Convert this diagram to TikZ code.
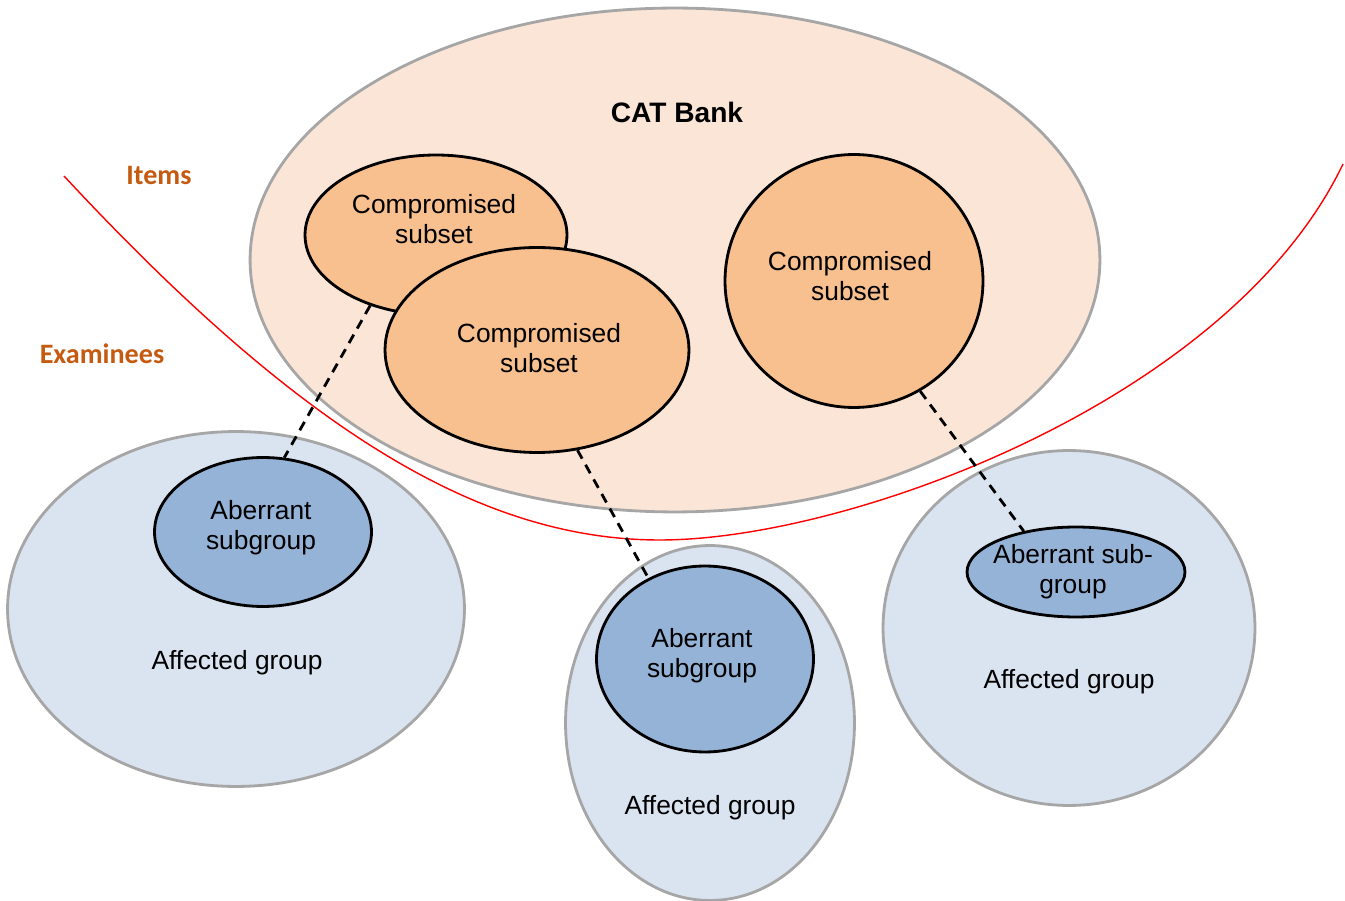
\documentclass[tikz,border=0pt]{standalone}
\usepackage{fontspec}
\setmainfont{Liberation Sans}
\newfontfamily\calibri{Carlito}
\usetikzlibrary{shapes.geometric}
\definecolor{bankfill}{HTML}{FBE5D6}
\definecolor{subsetfill}{HTML}{F8C08F}
\definecolor{groupfill}{HTML}{DAE3F0}
\definecolor{aberfill}{HTML}{95B3D7}
\definecolor{outline}{HTML}{A6A6A6}
\definecolor{sidelabel}{HTML}{C55A11}
\begin{document}
\begin{tikzpicture}[x=0.02cm, y=-0.02cm,
    pool/.style={ellipse, draw=outline, line width=1.6pt, inner sep=0pt},
    subset/.style={ellipse, draw=black, line width=1.6pt, fill=subsetfill, inner sep=0pt, align=center, font=\fontsize{15}{17}\selectfont},
    txt/.style={align=center, font=\fontsize{15}{17}\selectfont},
    side/.style={text=sidelabel, font=\calibri\fontsize{16}{18}\selectfont\bfseries},
    link/.style={draw, dashed, line width=1.6pt, dash pattern=on 5.5pt off 4pt}]
    \useasboundingbox (0,0) rectangle (1345,901);

    \node[pool, fill=bankfill, minimum width=17cm, minimum height=10.08cm] (bank) at (675,260) {};
    \node[txt, font=\fontsize{16}{18}\selectfont\bfseries] (banktxt) at (677,112) {CAT Bank};
    \node[subset, minimum width=5.24cm, minimum height=3.2cm] (compA) at (436,235) {};
    \node[txt] (compAtxt) at (434,219) {Compromised\\subset};
    \node[subset, minimum width=6.08cm, minimum height=4.1cm] (compB) at (537,350) {};
    \node[txt] (compBtxt) at (539,348) {Compromised\\subset};
    \node[subset, minimum width=5.16cm, minimum height=5.06cm] (compC) at (854,281) {};
    \node[txt] (compCtxt) at (850,276) {Compromised\\subset};

    \coordinate (split) at (660,540);
    \draw[red, line width=0.8pt] (64,176) .. controls (300,430) and (480,540) .. (split)
        .. controls (850,540) and (1230,400) .. (1343,164);

    \node[side] (items) at (159,175) {Items};
    \node[side] (exam) at (102,354) {Examinees};

    \node[pool, fill=groupfill, minimum width=9.14cm, minimum height=7.1cm] (grpA) at (236,609) {};
    \node[pool, fill=groupfill, minimum width=5.78cm, minimum height=7.1cm] (grpB) at (710,723) {};
    \node[pool, fill=groupfill, minimum width=7.44cm, minimum height=7.1cm] (grpC) at (1069,628) {};
    \node[txt] (grpAtxt) at (237,663) {Affected group};
    \node[txt] (grpBtxt) at (710,808) {Affected group};
    \node[txt] (grpCtxt) at (1069,682) {Affected group};

    \node[subset, fill=aberfill, minimum width=4.34cm, minimum height=2.98cm] (aberA) at (263,532) {};
    \node[txt] (aberAtxt) at (261,528) {Aberrant\\subgroup};
    \node[subset, fill=aberfill, minimum width=4.34cm, minimum height=3.72cm] (aberB) at (705,659) {};
    \node[txt] (aberBtxt) at (702,656) {Aberrant\\subgroup};
    \node[subset, fill=aberfill, minimum width=4.36cm, minimum height=1.8cm] (aberC) at (1076,572) {};
    \node[txt] (aberCtxt) at (1073,572) {Aberrant sub-\\group};

    \draw[link] (compA.227) -- (aberA.74);
    \draw[link] (compB.292) -- (aberB.125);
    \draw[link] (compC.301) -- (aberC.142);
\end{tikzpicture}
\end{document}
